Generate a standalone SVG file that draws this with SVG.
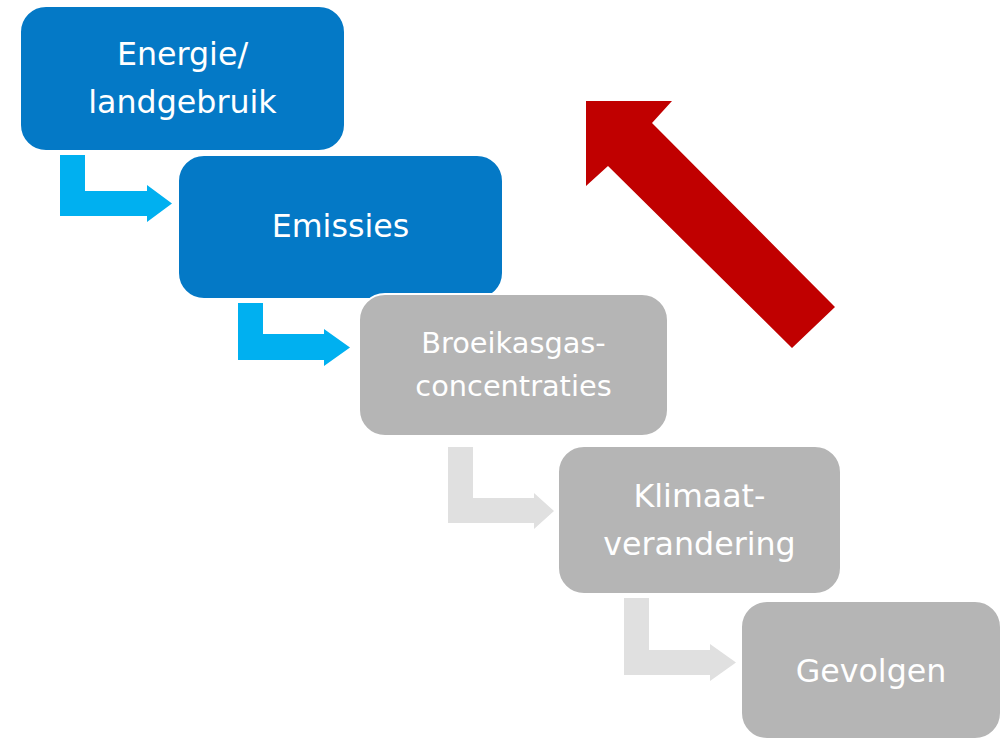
<svg xmlns="http://www.w3.org/2000/svg" width="1001" height="740" viewBox="0 0 1001 740">
<style>
.box{stroke:#ffffff;stroke-width:2}
.blue{fill:#0479C6}
.gray{fill:#B5B5B5}
.t{font-family:"DejaVu Sans",Verdana,sans-serif;fill:#ffffff;text-anchor:middle;font-size:31.7px}
.s{font-size:28.8px}
.cyan{fill:#00B0F0}
.lg{fill:#E0E0E0}
</style>
<rect width="1001" height="740" fill="#ffffff"/>
<g id="connectors">
<polygon class="cyan" points="60,155 85,155 85,191 147,191 147,185 172,203.5 147,222 147,216 60,216"/>
<polygon class="cyan" points="238,303 263,303 263,334 324,334 324,329 350,347.5 324,366 324,360 238,360"/>
<polygon class="lg" points="448,447 473,447 473,498 534,498 534,493 554,511 534,529 534,523 448,523"/>
<polygon class="lg" points="624,598 649,598 649,650 710,650 710,644 736,662.5 710,681 710,675 624,675"/>
</g>
<g id="feedback">
<polygon fill="#C00000" points="586,101 672,101 652,123 835,307 792,348 608,166 586,186"/>
</g>
<g id="n1">
<rect class="box blue" x="20" y="6" width="325" height="145" rx="26"/>
<text class="t" x="182.5" y="65">Energie/</text>
<text class="t" x="182.5" y="113">landgebruik</text>
</g>
<g id="n2">
<rect class="box blue" x="178" y="155" width="325" height="144" rx="26"/>
<text class="t" x="340.5" y="237">Emissies</text>
</g>
<g id="n3">
<rect class="box gray" x="359" y="294" width="309" height="142" rx="26"/>
<text class="t s" x="513.5" y="353">Broeikasgas-</text>
<text class="t s" x="513.5" y="396">concentraties</text>
</g>
<g id="n4">
<rect class="box gray" x="558" y="446" width="283" height="148" rx="26"/>
<text class="t" x="699.5" y="507">Klimaat-</text>
<text class="t" x="699.5" y="555">verandering</text>
</g>
<g id="n5">
<rect class="box gray" x="741" y="601" width="260" height="138" rx="26"/>
<text class="t" x="871" y="682">Gevolgen</text>
</g>
</svg>
